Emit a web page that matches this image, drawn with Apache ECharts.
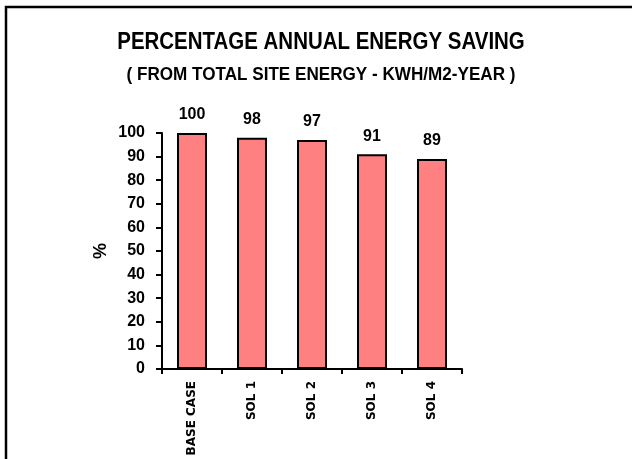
<!DOCTYPE html>
<html><head><meta charset="utf-8">
<script src="https://cdn.jsdelivr.net/npm/echarts@6/dist/echarts.min.js"></script>
<style>html,body{margin:0;padding:0;background:#fff}#c{width:632px;height:459px}</style>
</head><body><div id="c"></div>
<script>
var titleText = 'PERCENTAGE ANNUAL ENERGY SAVING';
var subtitleText = '( FROM TOTAL SITE ENERGY - KWH/M2-YEAR )';
var categories = ['BASE CASE', 'SOL 1', 'SOL 2', 'SOL 3', 'SOL 4'];
var values = [100, 98, 97, 91, 89];
var yTicks = [0, 10, 20, 30, 40, 50, 60, 70, 80, 90, 100];

var chart = echarts.init(document.getElementById('c'));
chart.setOption({
  animation: false,
  backgroundColor: '#fff',
  graphic: [{
    type: 'rect', shape: {x: 6, y: 7, width: 700, height: 500},
    style: {fill: 'none', stroke: '#000', lineWidth: 2.5}
  }, {
    type: 'text', x: 321, y: 43, scaleX: 0.89,
    style: {text: titleText, fill: '#000', font: 'bold 23px "Liberation Sans", Arial, sans-serif', textAlign: 'center', textVerticalAlign: 'middle'}
  }, {
    type: 'text', x: 321, y: 75, scaleX: 0.95,
    style: {text: subtitleText, fill: '#000', font: 'bold 18px "Liberation Sans", Arial, sans-serif', textAlign: 'center', textVerticalAlign: 'middle'}
  }],
  grid: {left: 162, top: 133, width: 300, height: 236, containLabel: false},
  xAxis: {
    type: 'category', data: categories,
    axisLine: {lineStyle: {color: '#000', width: 2}},
    axisTick: {show: true, length: 5, lineStyle: {color: '#000', width: 2}},
    axisLabel: {rotate: 90, fontSize: 12, fontWeight: 'bold', color: '#000', fontFamily: 'DejaVu Sans, sans-serif', margin: 12}
  },
  yAxis: {
    type: 'value', min: 0, max: 100, interval: 10,
    name: '%', nameLocation: 'middle', nameGap: 52, nameRotate: 90,
    nameTextStyle: {fontSize: 18, fontWeight: 'bold', color: '#000', fontFamily: 'Liberation Sans, Arial, sans-serif'},
    splitLine: {show: false},
    axisLine: {show: true, lineStyle: {color: '#000', width: 2}},
    axisTick: {show: true, length: 6, lineStyle: {color: '#000', width: 2}},
    axisLabel: {fontSize: 16, fontWeight: 'bold', color: '#000', fontFamily: 'Liberation Sans, Arial, sans-serif', margin: 17,
      formatter: function (v) { return yTicks.indexOf(v) >= 0 ? String(v) : ''; }}
  },
  series: [{
    type: 'bar', data: values, barWidth: '50%',
    itemStyle: {color: '#FF8080', borderColor: '#000', borderWidth: 2},
    label: {show: true, position: 'top', distance: 10, fontSize: 16, fontWeight: 'bold', color: '#000', fontFamily: 'Liberation Sans, Arial, sans-serif'}
  }]
});
</script></body></html>
